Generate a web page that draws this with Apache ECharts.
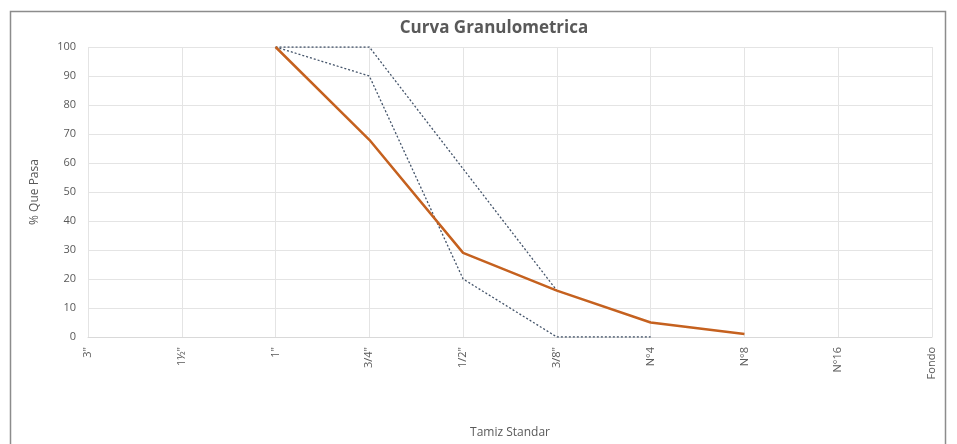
<!DOCTYPE html>
<html><head><meta charset="utf-8">
<script src="https://cdn.jsdelivr.net/npm/echarts@6/dist/echarts.min.js"></script>
<style>html,body{margin:0;padding:0;background:#fff}#c{width:957px;height:444px}</style>
</head><body><div id="c"></div>
<script>
const categories = ['3"', '1½"', '1"', '3/4"', '1/2"', '3/8"', 'N°4', 'N°8', 'N°16', 'Fondo'];
const curva = [null, null, 100, 68, 29, 16, 5, 1, null, null];
const limiteSuperior = [null, null, 100, 100, 58, 16, null, null, null, null];
const limiteInferior = [null, null, 100, 90, 20, 0, 0, null, null, null];
const yTicks = { min: 0, max: 100, interval: 10 };

const chart = echarts.init(document.getElementById('c'));
const dotted = { color: '#44546a', width: 1.3, type: [2, 2] };
chart.setOption({
  animation: false,
  title: { text: 'Curva Granulometrica', left: 489, top: 15, textAlign: 'center',
    textStyle: { fontFamily: 'Open Sans', fontSize: 17, fontWeight: 'bold', color: '#595959' } },
  graphic: [{ type: 'rect', shape: { x: 10.5, y: 11.5, width: 935, height: 440 },
    style: { fill: 'none', stroke: '#8c8c8c', lineWidth: 1.5 }, silent: true, z: -1 }],
  grid: { left: 88, right: 25, top: 47, bottom: 107 },
  xAxis: {
    type: 'category', data: categories, boundaryGap: false,
    name: 'Tamiz Standar', nameLocation: 'middle', nameGap: 90,
    nameTextStyle: { fontFamily: 'Open Sans', fontSize: 12, color: '#595959' },
    axisLine: { show: true, lineStyle: { color: '#d9d9d9' } }, axisTick: { show: false },
    axisLabel: { rotate: 90, fontFamily: 'Open Sans', fontSize: 11, color: '#595959', margin: 10 },
    splitLine: { show: true, lineStyle: { color: '#e4e4e4' } }
  },
  yAxis: {
    type: 'value', min: yTicks.min, max: yTicks.max, interval: yTicks.interval,
    name: '% Que Pasa', nameLocation: 'middle', nameGap: 47, nameRotate: 90,
    nameTextStyle: { fontFamily: 'Open Sans', fontSize: 12, color: '#595959' },
    axisLine: { show: false }, axisTick: { show: false },
    axisLabel: { fontFamily: 'Open Sans', fontSize: 11, color: '#595959', margin: 12 },
    splitLine: { lineStyle: { color: '#e4e4e4' } }
  },
  series: [
    { name: 'Limite Superior', type: 'line', data: limiteSuperior, symbol: 'none', lineStyle: dotted, z: 2 },
    { name: 'Limite Inferior', type: 'line', data: limiteInferior, symbol: 'none', lineStyle: dotted, z: 2 },
    { name: 'Curva', type: 'line', data: curva, symbol: 'none',
      lineStyle: { color: '#c5611f', width: 2.5 }, z: 3 }
  ]
});
</script></body></html>
